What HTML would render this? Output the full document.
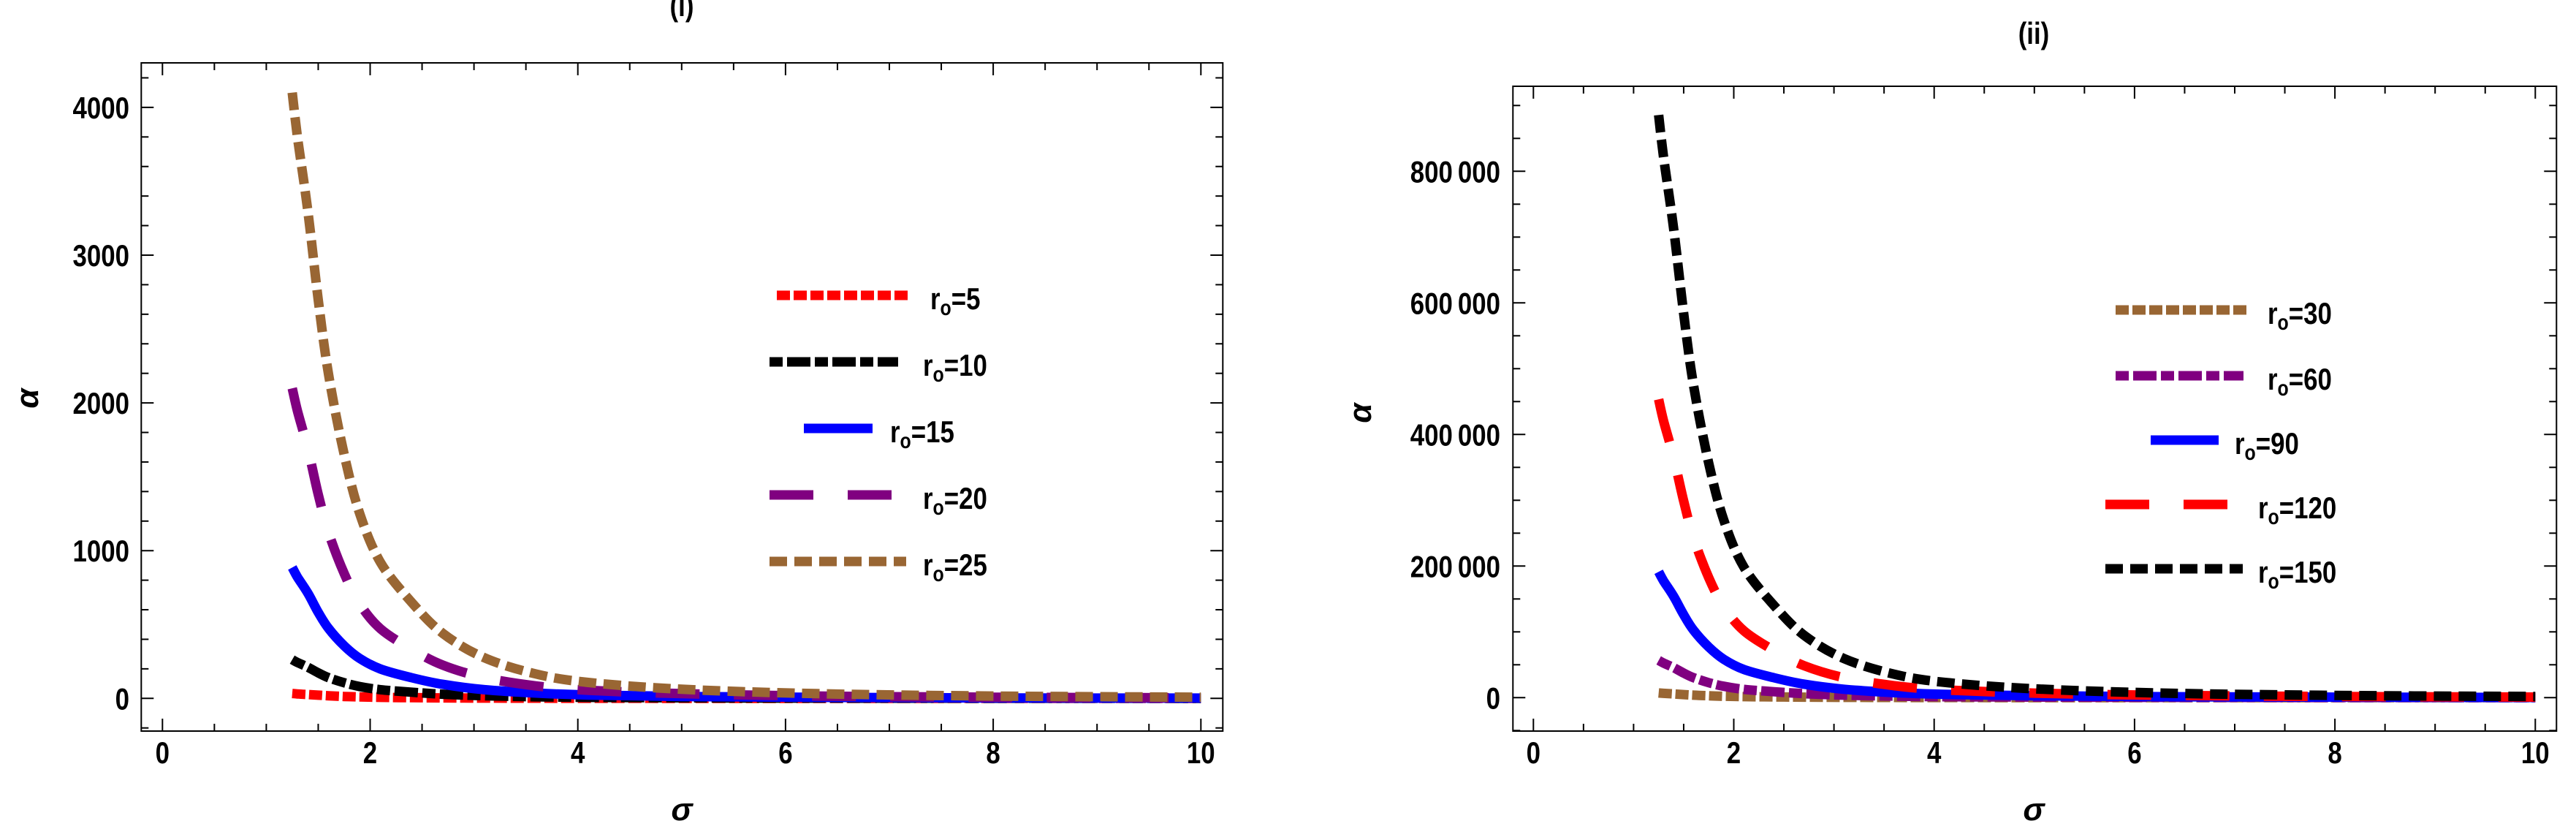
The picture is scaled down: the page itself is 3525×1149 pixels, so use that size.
<!DOCTYPE html>
<html><head><meta charset="utf-8">
<style>
html,body{margin:0;padding:0;background:#fff;}
svg{display:block;}
text{font-family:"Liberation Sans",sans-serif;font-weight:bold;fill:#000;}
.cond{transform-box:fill-box;transform:scaleX(0.83);}
.end{transform-origin:100% 50%;}
.mid{transform-origin:50% 50%;}
.st{transform-origin:0% 50%;}
</style></head>
<body>
<svg id="chart" width="3525" height="1149" viewBox="0 0 3525 1149" xmlns="http://www.w3.org/2000/svg"></svg>
<script>
const sigma = [1.25,1.3,1.4,1.5,1.6,1.75,1.9,2.1,2.4,2.7,3.1,3.6,4.1,5,6.3,8,10];
// Panel (i)
const r5  = [33,30,26,22,18,13,10,7,5,3.5,2.2,1.3,0.9,0.5,0.3,0.1,0.1];
const r10 = [262,243,211,173,140,106,80,59,42,28,18,11,7,4,2,1,0.5];
const r15 = [886,821,713,583,473,356,270,199,140,95,59,36,23,13,7,3,2];
const r20 = [2099,1946,1690,1382,1121,845,640,471,333,225,141,84,55,32,16,8,4];
const r25 = [4100,3800,3300,2700,2190,1650,1250,920,650,440,275,165,108,62,32,16,8];
// Panel (ii)
const r30  = [7085,6566,5702,4666,3784,2851,2160,1590,1123,760,475,285,187,107,55,28,14];
const r60  = [56678,52531,45619,37325,30275,22810,17280,12718,8986,6083,3802,2281,1493,857,442,221,111];
const r90  = [191290,177293,153965,125971,102177,76982,58320,42924,30326,20529,12830,7698,5039,2893,1493,746,373];
const r120 = [453427,420250,364954,298598,242196,182477,138240,101745,71885,48660,30413,18248,11944,6857,3539,1769,885];
const r150 = [885600,820800,712800,583200,473040,356400,270000,198720,140400,95040,59400,35640,23328,13392,6912,3456,1728];
const xTicks = [0,2,4,6,8,10];
const yTicks1 = [0,1000,2000,3000,4000];
const yTicks2 = [0,200000,400000,600000,800000];
const yLabels2 = ["0","200\u2009000","400\u2009000","600\u2009000","800\u2009000"];
const legend1 = ["5","10","15","20","25"];
const legend2 = ["30","60","90","120","150"];

const NS = "http://www.w3.org/2000/svg";
const svg = document.getElementById("chart");
function mk(tag, attrs, parent){
  const e = document.createElementNS(NS, tag);
  for (const k in attrs) e.setAttribute(k, attrs[k]);
  (parent||svg).appendChild(e);
  return e;
}
const STY = {
  dot:{c:"#ff0000",d:"18 5"},
  dotBrown:{c:"#996633",d:"18 5"},
  dd:{c:"#000000",d:"18 6 32 6"},
  ddPurple:{c:"#800080",d:"18 6 32 6"},
  solid:{c:"#0000ff",d:"none"},
  longP:{c:"#800080",d:"60 47"},
  longR:{c:"#ff0000",d:"60 47"},
  dashB:{c:"#996633",d:"24 10"},
  dashK:{c:"#000000",d:"24 10"}
};
function smoothPath(pts){
  let d = "M" + pts[0][0].toFixed(1) + "," + pts[0][1].toFixed(1);
  for (let i=0;i<pts.length-1;i++){
    const p0=pts[Math.max(i-1,0)], p1=pts[i], p2=pts[i+1], p3=pts[Math.min(i+2,pts.length-1)];
    const c1=[p1[0]+(p2[0]-p0[0])/6, p1[1]+(p2[1]-p0[1])/6];
    const c2=[p2[0]-(p3[0]-p1[0])/6, p2[1]-(p3[1]-p1[1])/6];
    d += "C"+c1[0].toFixed(1)+","+c1[1].toFixed(1)+" "+c2[0].toFixed(1)+","+c2[1].toFixed(1)+" "+p2[0].toFixed(1)+","+p2[1].toFixed(1);
  }
  return d;
}
function panel(cfg){
  const g = mk("g",{});
  
  
  const X = v => cfg.x0 + v*cfg.xs;
  const Y = v => cfg.y0 - v*cfg.ys;
  const f = cfg.frame;
  const fr = mk("rect",{x:f[0],y:f[1],width:f[2]-f[0],height:f[3]-f[1],fill:"none",stroke:"#000","stroke-width":2},g);
  
  
  // x ticks
  for (let v=0; v<=10.001; v+=0.5){
    const major = Math.abs(v-Math.round(v/2)*2)<1e-6;
    const L = major?17:10, x=X(v);
    mk("line",{x1:x,y1:f[3],x2:x,y2:f[3]-L,stroke:"#000","stroke-width":2},g);
    mk("line",{x1:x,y1:f[1],x2:x,y2:f[1]+L,stroke:"#000","stroke-width":2},g);
  }
  xTicks.forEach(v=>{
    const t = mk("text",{x:X(v),y:1044,"text-anchor":"middle","font-size":42,class:"cond mid"},g);
    t.textContent = v;
    
    
  });
  // y ticks
  for (let v=cfg.yMinorStart; v<=cfg.yMinorEnd+1; v+=cfg.yMinor){
    const y=Y(v);
    const major = cfg.yTicks.some(t=>Math.abs(t-v)<1e-6);
    const L = major?17:10;
    mk("line",{x1:f[0],y1:y,x2:f[0]+L,y2:y,stroke:"#000","stroke-width":2},g);
    mk("line",{x1:f[2],y1:y,x2:f[2]-L,y2:y,stroke:"#000","stroke-width":2},g);
  }
  cfg.yTicks.forEach((v,i)=>{
    const t = mk("text",{x:cfg.yLabX,y:Y(v)+15,"text-anchor":"end","font-size":42,class:"cond end"},g);
    t.textContent = cfg.yLabels[i];
    
    
  });
  // series
  cfg.series.forEach(s=>{
    const pts = sigma.map((sg,i)=>[X(sg),Y(s.vals[i])]);
    const st = STY[s.style];
    const p = mk("path",{d:smoothPath(pts),fill:"none",stroke:st.c,"stroke-width":13,"stroke-dasharray":st.d,"stroke-linecap":"butt"},g);
    
    
  });
  // legend
  cfg.series.forEach(s=>{
    const st = STY[s.style];
    const lg = mk("g",{},g);
    
    
    mk("line",{x1:s.lx1,y1:s.ly,x2:s.lx2,y2:s.ly,stroke:st.c,"stroke-width":13,"stroke-dasharray":st.d},lg);
    const t = mk("text",{x:s.tx,y:s.ly+19,"font-size":42,class:"cond st"},lg);
    t.innerHTML = 'r<tspan font-size="30" dy="8">o</tspan><tspan dy="-8">=' + s.label + '</tspan>';
  });
  // titles
  const tt = mk("text",{x:cfg.titleX,y:cfg.titleY,"text-anchor":"middle","font-size":42,class:"cond mid"},g);
  tt.textContent = cfg.title;
  
  
  const xl = mk("text",{x:cfg.titleX,y:1122,"text-anchor":"middle","font-size":44,"font-style":"italic"},g);
  xl.textContent = "\u03c3";
  
  
  const yl = mk("text",{x:cfg.ylx,y:cfg.yly,"text-anchor":"middle","font-size":44,"font-style":"italic",transform:"rotate(-90 "+cfg.ylx+" "+cfg.yly+")"},g);
  yl.textContent = "\u03b1";
  
  
}
panel({
  name:"panel-i", title:"(i)", titleX:933, titleY:22,
  frame:[193.3,86,1673.3,1000], x0:222.3, xs:142.1, y0:955.3, ys:0.2021,
  yTicks:yTicks1, yLabels:yTicks1.map(String), yLabX:177,
  yMinor:200, yMinorStart:-200, yMinorEnd:4200, ylx:52, yly:545,
  series:[
    {vals:r5, label:legend1[0], style:"dot", lx1:1063,lx2:1244,ly:404,tx:1273},
    {vals:r10,label:legend1[1], style:"dd", lx1:1053,lx2:1229,ly:495,tx:1263},
    {vals:r15,label:legend1[2], style:"solid", lx1:1100,lx2:1194,ly:586,tx:1218},
    {vals:r20,label:legend1[3], style:"longP", lx1:1053,lx2:1220,ly:677,tx:1263},
    {vals:r25,label:legend1[4], style:"dashB", lx1:1053,lx2:1240,ly:768,tx:1263}
  ]
});
panel({
  name:"panel-ii", title:"(ii)", titleX:2783, titleY:60,
  frame:[2070.3,118,3498.3,1000], x0:2098.3, xs:137.1, y0:954.3, ys:0.0009,
  yTicks:yTicks2, yLabels:yLabels2, yLabX:2053,
  yMinor:50000, yMinorStart:-50000, yMinorEnd:900000, ylx:1876, yly:565,
  series:[
    {vals:r30, label:legend2[0], style:"dotBrown", lx1:2895,lx2:3075,ly:424,tx:3103},
    {vals:r60, label:legend2[1], style:"ddPurple", lx1:2895,lx2:3070,ly:514,tx:3103},
    {vals:r90, label:legend2[2], style:"solid", lx1:2943,lx2:3036,ly:602,tx:3058},
    {vals:r120,label:legend2[3], style:"longR", lx1:2881,lx2:3048,ly:690,tx:3090},
    {vals:r150,label:legend2[4], style:"dashK", lx1:2881,lx2:3069,ly:778,tx:3090}
  ]
});
</script>
</body></html>
